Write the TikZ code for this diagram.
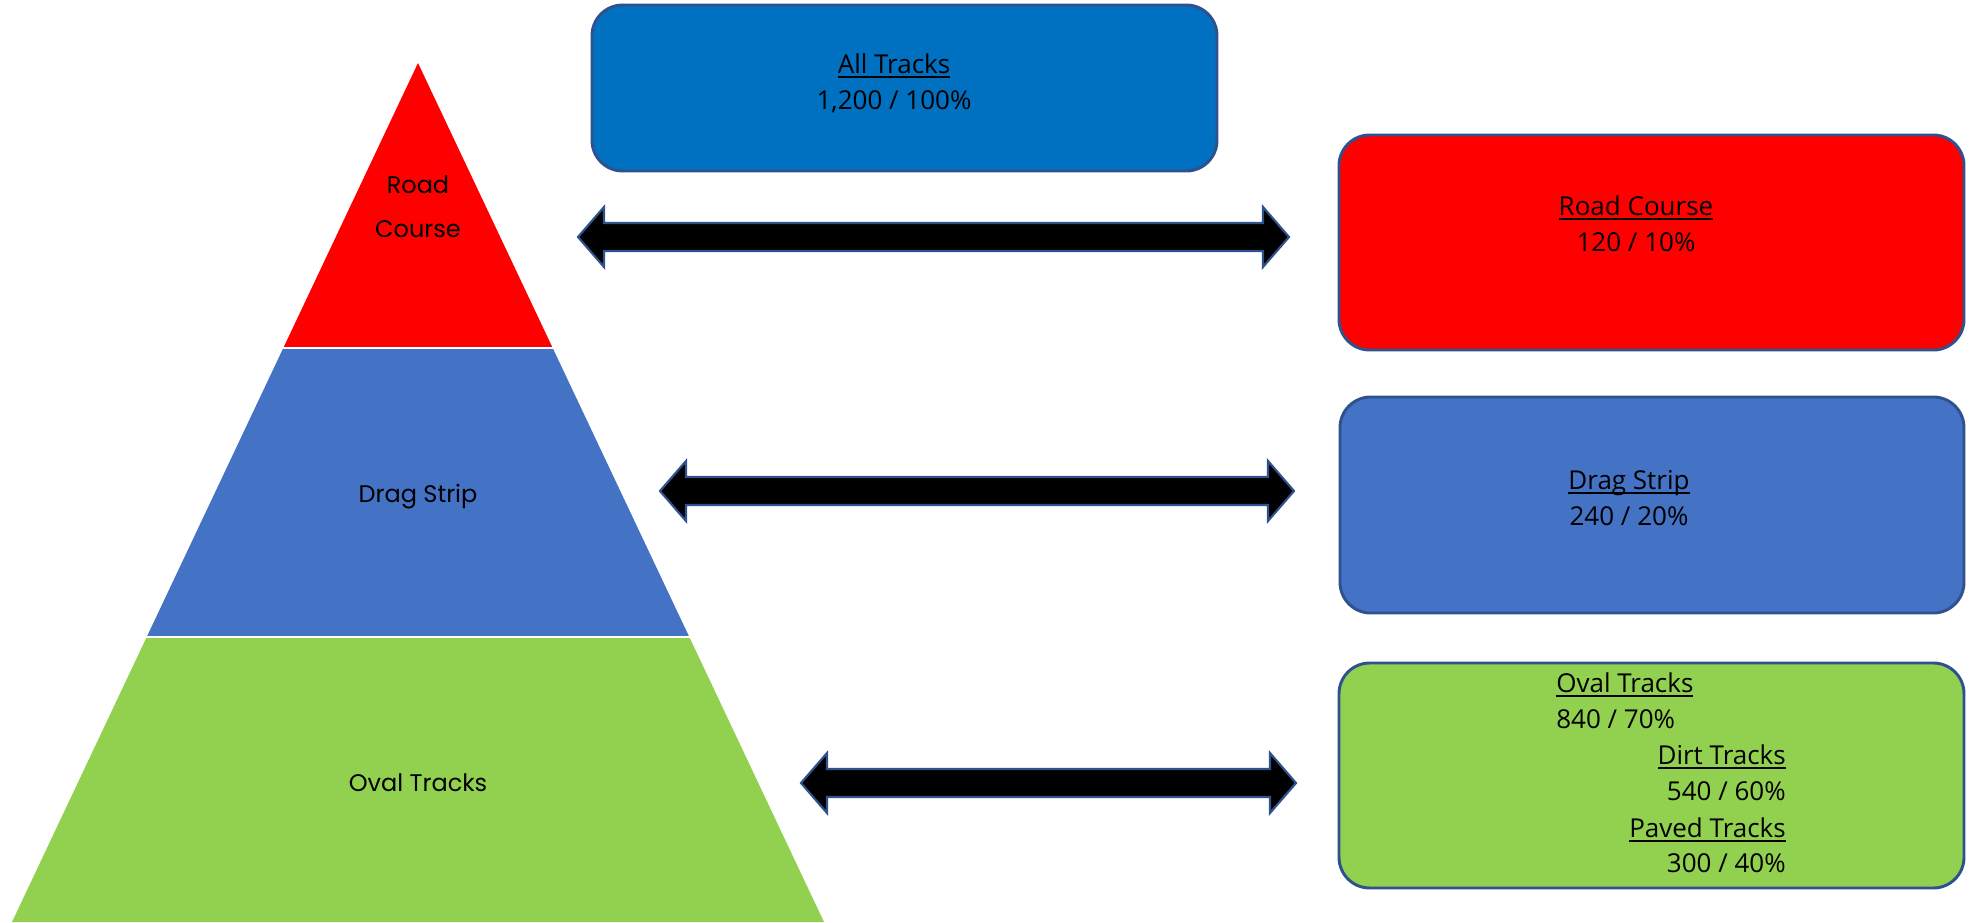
\documentclass[tikz,border=0pt]{standalone}
\usepackage{fontspec}
\setmainfont{Open Sans}
\newfontfamily\pyrfont{Poppins}
\usetikzlibrary{calc}
\definecolor{allblue}{HTML}{0070C0}
\definecolor{roadred}{HTML}{FF0000}
\definecolor{dragblue}{HTML}{4472C4}
\definecolor{ovalgreen}{HTML}{92D050}
\definecolor{edgeblue}{HTML}{2F528F}
\newcommand\ulin[1]{\setbox0\hbox{#1}\leavevmode\rlap{\rule[-3.5pt]{\wd0}{1.5pt}}\box0}
\newcommand\dblarr[2]{\draw[arrsty] (#1) -- ++(26,-30) -- ++(0,16) -- ($(#2)+(-26,-14)$) -- ++(0,-16) -- (#2) -- ++(-26,30) -- ++(0,-16) -- ($(#1)+(26,14)$) -- ++(0,16) -- cycle;}
\begin{document}
\begin{tikzpicture}[x=0.75pt,y=-0.75pt,
  boxsty/.style={draw=edgeblue, line width=2.2pt, rounded corners=23pt, inner sep=0pt},
  txt/.style={font=\fontsize{19.5}{24}\selectfont, inner sep=0pt, text=black, anchor=base},
  pyrtxt/.style={font=\pyrfont\fontsize{18}{33}\selectfont, inner sep=0pt, anchor=base},
  arrsty/.style={fill=black, draw=edgeblue, line width=1.6pt, line join=miter}]
\useasboundingbox (0,0) rectangle (1975,922);

% pyramid
\fill[roadred] (418,63) -- (552.7,348) -- (283.3,348) -- cycle;
\fill[dragblue] (283.3,348) -- (552.7,348) -- (689.3,637) -- (146.7,637) -- cycle;
\fill[ovalgreen] (146.7,637) -- (689.3,637) -- (824,922) -- (12,922) -- cycle;
\draw[white, line width=2.2pt] (270,348) -- (570,348);
\draw[white, line width=2.2pt] (130,637) -- (705,637);
\node[pyrtxt] (proad1) at (418,193) {Road};
\node[pyrtxt] (proad2) at (418,237) {Course};
\node[pyrtxt] (pdrag) at (418,502) {Drag Strip};
\node[pyrtxt] (poval) at (418,791) {Oval Tracks};

% boxes
\node[boxsty, fill=allblue, minimum width=625*0.75pt, minimum height=166*0.75pt] (all) at (904.5,88) {};
\node[boxsty, fill=roadred, minimum width=625*0.75pt, minimum height=215*0.75pt] (road) at (1651.5,242.5) {};
\node[boxsty, fill=dragblue, minimum width=624*0.75pt, minimum height=216*0.75pt] (drag) at (1652,505) {};
\node[boxsty, fill=ovalgreen, minimum width=625*0.75pt, minimum height=225*0.75pt] (oval) at (1651.5,775.5) {};

\node[txt] (allt) at (894,73) {\ulin{All Tracks}};
\node[txt] (alln) at (894,109) {1,200 / 100\%};
\node[txt] (roadt) at (1636,215) {\ulin{Road Course}};
\node[txt] (roadn) at (1636,251) {120 / 10\%};
\node[txt] (dragt) at (1629,489) {\ulin{Drag Strip}};
\node[txt] (dragn) at (1629,525) {240 / 20\%};
\node[txt, anchor=base west] (ovalt) at (1556,692) {\ulin{Oval Tracks}};
\node[txt, anchor=base west] (ovaln) at (1556,728) {840 / 70\%};
\node[txt, anchor=base east] (dirtt) at (1786,764) {\ulin{Dirt Tracks}};
\node[txt, anchor=base east] (dirtn) at (1786,800) {540 / 60\%};
\node[txt, anchor=base east] (pavt) at (1786,837) {\ulin{Paved Tracks}};
\node[txt, anchor=base east] (pavn) at (1786,872) {300 / 40\%};

% arrows
\coordinate (a1l) at (578,237);
\coordinate (a1r) at (1289,237);
\coordinate (a2l) at (660,491);
\coordinate (a2r) at (1294,491);
\coordinate (a3l) at (801,783);
\coordinate (a3r) at (1296,783);
\dblarr{a1l}{a1r}
\dblarr{a2l}{a2r}
\dblarr{a3l}{a3r}
\end{tikzpicture}
\end{document}
